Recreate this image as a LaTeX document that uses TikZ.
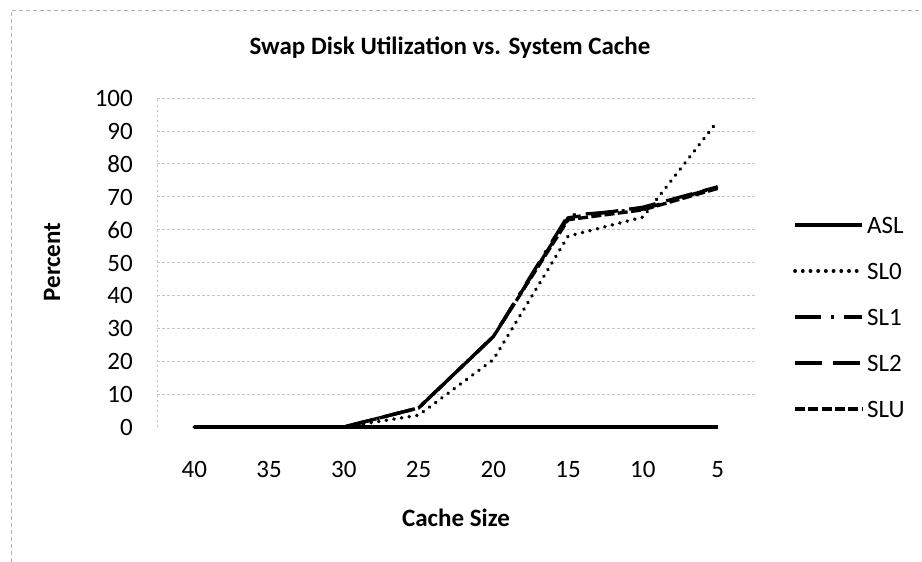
\documentclass[tikz,border=0pt]{standalone}
\usepackage{fontspec}
\setmainfont{Carlito}
\begin{document}
\begin{tikzpicture}[x=1pt,y=-1pt,
  grid/.style={gray!45, line width=0.7pt, dash pattern=on 2.5pt off 2.5pt},
  frame/.style={gray!60, line width=0.8pt, dash pattern=on 4pt off 3pt},
  series/.style={line width=3.3pt, line join=round},
  aslline/.style={series},
  slzero/.style={series, line width=3.8pt, line cap=round, dash pattern=on 0.1pt off 7.6pt},
  slone/.style={series, dash pattern=on 26pt off 10pt on 3pt off 10pt},
  sltwo/.style={series, dash pattern=on 27pt off 11pt},
  slu/.style={series, dash pattern=on 10pt off 3.3pt},
  ticklab/.style={font=\fontsize{25}{30}\selectfont, inner sep=0pt},
  axtitle/.style={font=\fontsize{25}{30}\selectfont\bfseries, inner sep=0pt},
]
\useasboundingbox (0,0) rectangle (922,562);
% chart area border
\draw[frame] (11,562) -- (11,10) -- (922,10);

% title and axis titles
\node[axtitle, anchor=base] (title) at (450,54) {Swap Disk Utilization vs. System Cache};
\node[axtitle, rotate=90] (ytitle) at (52,262) {Percent};
\node[axtitle, anchor=base] (xtitle) at (456,526) {Cache Size};

% plot area: one unit in x per category, one unit in y per percent
\begin{scope}[shift={(157,427)}, x={(74.75pt,0pt)}, y={(0pt,3.29pt)}]
  \foreach \v in {10,20,...,100}
    \draw[grid] (0,\v) -- (8,\v);
  \draw[grid] (0,0) -- (0,100);
  \foreach \v in {0,10,...,100}
    \node[ticklab, anchor=base east] (ylab\v) at ([xshift=-24pt,yshift=-8.5pt]0,\v) {\v};
  \foreach \c [count=\i from 0] in {40,35,30,25,20,15,10,5}
    \node[ticklab, anchor=base] (xlab\c) at ([yshift=-50pt]\i+0.5,0) {\c};

  % data series
  \draw[aslline] plot coordinates {(0.5,0) (1.5,0) (2.5,0) (3.5,0) (4.5,0) (5.5,0) (6.5,0) (7.5,0)};
  \draw[slzero] plot coordinates {(0.5,0) (1.5,0) (2.5,0) (3.5,3.6) (4.5,20.5) (5.5,58) (6.5,63.8) (7.5,93)};
  \draw[slone] plot coordinates {(0.5,0) (1.5,0) (2.5,0) (3.5,5.8) (4.5,27.5) (5.5,64.3) (6.5,66.2) (7.5,73)};
  \draw[sltwo] plot coordinates {(0.5,0) (1.5,0) (2.5,0) (3.5,5.8) (4.5,27.5) (5.5,63.6) (6.5,66.8) (7.5,73)};
  \draw[slu] plot coordinates {(0.5,0) (1.5,0) (2.5,0) (3.5,5.8) (4.5,27.5) (5.5,63) (6.5,66) (7.5,72.5)};
\end{scope}

% legend
\foreach \s/\nm/\y in {aslline/ASL/225, slzero/SL0/271, slone/SL1/317, sltwo/SL2/363, slu/SLU/409} {
  \coordinate (ka\nm) at (795,\y);
  \coordinate (kb\nm) at (862,\y);
  \draw[\s] (ka\nm) -- (kb\nm);
  \node[ticklab, anchor=base west] (kt\nm) at (867,\y+8.5) {\nm};
}
\end{tikzpicture}
\end{document}
